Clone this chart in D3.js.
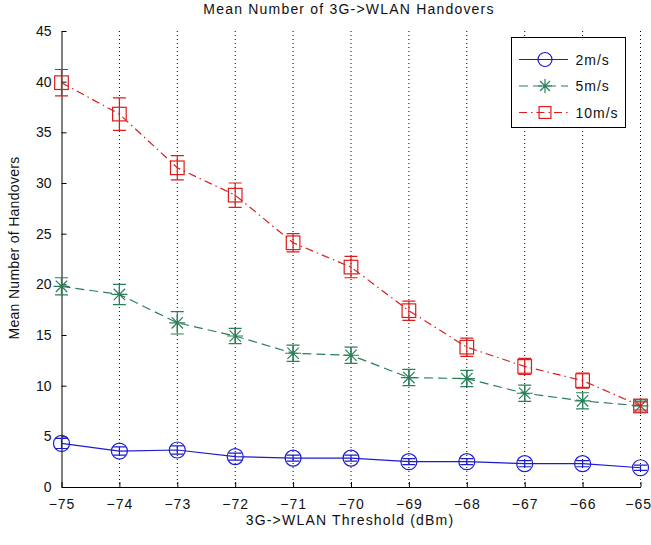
<!DOCTYPE html>
<html lang="en">
<head>
    <meta charset="utf-8">
    <title>Mean Number of 3G->WLAN Handovers</title>
    <style>
        body { margin: 0; background: #fff; }
        text { font-family: "Liberation Sans", Arial, sans-serif; fill: #111; }
    </style>
</head>
<body>
    <div id="chart"></div>
    <script src="https://d3js.org/d3.v7.min.js"></script>
    <script>
        // thresholds (dBm)
        const thresholds = [-75, -74, -73, -72, -71, -70, -69, -68, -67, -66, -65]

        // mean values + half error per speed
        const mean2 = [4.3, 3.55, 3.65, 3.0, 2.85, 2.85, 2.5, 2.5, 2.3, 2.3, 1.9]
        const err2 = [0.5, 0.4, 0.4, 0.35, 0.3, 0.3, 0.3, 0.3, 0.3, 0.3, 0.25]
        const mean5 = [19.8, 19.0, 16.2, 14.9, 13.2, 13.0, 10.8, 10.7, 9.25, 8.5, 8.0]
        const err5 = [0.85, 1.0, 1.1, 0.75, 0.8, 0.8, 0.8, 0.8, 0.8, 0.8, 0.6]
        const mean10 = [39.9, 36.8, 31.5, 28.8, 24.1, 21.7, 17.4, 13.8, 11.9, 10.5, 8.0]
        const err10 = [1.3, 1.6, 1.2, 1.2, 0.9, 1.05, 0.95, 0.9, 0.8, 0.75, 0.4]

        const yTicks = [0, 5, 10, 15, 20, 25, 30, 35, 40, 45]

        const W = 651, H = 545
        const margin = { left: 61.5, right: 10.5, top: 31, bottom: 58 }

        const svg = d3.select('#chart').append('svg')
            .attr('width', W).attr('height', H)

        const x = d3.scaleLinear().domain([-75, -65]).range([margin.left, W - margin.right])
        const y = d3.scaleLinear().domain([0, 45]).range([H - margin.bottom, margin.top])

        const series = [
            { name: '2m/s', mean: mean2, err: err2, color: '#1c1ccc', dash: null, marker: 'circle' },
            { name: '5m/s', mean: mean5, err: err5, color: '#2a7f58', dash: '9,5', marker: 'star' },
            { name: '10m/s', mean: mean10, err: err10, color: '#dc1c1c', dash: '8,4,1.5,4', marker: 'square' }
        ]

        // dotted vertical grid
        svg.append('g')
            .selectAll('line')
            .data(thresholds.slice(1))
            .join('line')
            .attr('x1', d => x(d)).attr('x2', d => x(d))
            .attr('y1', y(45)).attr('y2', y(0))
            .attr('stroke', '#000')
            .attr('stroke-width', 1)
            .attr('stroke-dasharray', '1,3')

        // axes (ticks inward, like matlab)
        const xAxis = svg.append('g')
            .attr('transform', `translate(0,${y(0)})`)
            .call(d3.axisBottom(x).tickValues(thresholds).tickSize(-5).tickPadding(12).tickSizeOuter(0))
        const yAxis = svg.append('g')
            .attr('transform', `translate(${x(-75)},0)`)
            .call(d3.axisLeft(y).tickValues(yTicks).tickSize(-5).tickPadding(10).tickSizeOuter(0))

        ;[xAxis, yAxis].forEach(g => {
            g.selectAll('text').style('font-size', '14px').style('font-family', '"Liberation Sans", Arial, sans-serif')
            g.select('.domain').attr('stroke', '#000')
        })
        xAxis.selectAll('text').style('letter-spacing', '1px')
        // keep the last label inside the page
        xAxis.selectAll('text').filter(d => d === -65).attr('text-anchor', 'end').attr('x', 11)

        function drawMarker(g, type, cx, cy, color, r) {
            if (type === 'circle') {
                g.append('circle').attr('cx', cx).attr('cy', cy).attr('r', r)
                    .attr('fill', 'none').attr('stroke', color).attr('stroke-width', 1.2)
            } else if (type === 'square') {
                const h = r * 0.85
                g.append('rect').attr('x', cx - h).attr('y', cy - h).attr('width', 2 * h).attr('height', 2 * h)
                    .attr('fill', 'none').attr('stroke', color).attr('stroke-width', 1.2)
            } else {
                const d = r * 0.71
                g.append('path')
                    .attr('d', `M${cx - r},${cy}H${cx + r}M${cx},${cy - r}V${cy + r}` +
                        `M${cx - d},${cy - d}L${cx + d},${cy + d}M${cx - d},${cy + d}L${cx + d},${cy - d}`)
                    .attr('stroke', color).attr('stroke-width', 1.2).attr('fill', 'none')
            }
        }

        const line = d3.line().x(d => x(d[0])).y(d => y(d[1]))

        series.forEach(s => {
            const pts = thresholds.map((t, i) => [t, s.mean[i], s.err[i]])
            const g = svg.append('g')
            g.append('path')
                .attr('d', line(pts))
                .attr('fill', 'none')
                .attr('stroke', s.color)
                .attr('stroke-width', 1.2)
                .attr('stroke-dasharray', s.dash)
            // error bars
            pts.forEach(p => {
                const cx = x(p[0]), top = y(p[1] + p[2]), bot = y(p[1] - p[2])
                g.append('path')
                    .attr('d', `M${cx},${top}V${bot}M${cx - 6.5},${top}H${cx + 6.5}M${cx - 6.5},${bot}H${cx + 6.5}`)
                    .attr('stroke', s.color).attr('stroke-width', 1.2).attr('fill', 'none')
                drawMarker(g, s.marker, cx, y(p[1]), s.color, 8)
            })
        })

        // legend
        const lg = svg.append('g').attr('transform', 'translate(511.5,37.5)')
        lg.append('rect').attr('width', 114).attr('height', 90)
            .attr('fill', '#fff').attr('stroke', '#000')
        series.forEach((s, i) => {
            const ly = 22 + i * 26.5
            lg.append('line').attr('x1', 7.5).attr('x2', 56.5).attr('y1', ly).attr('y2', ly)
                .attr('stroke', s.color).attr('stroke-width', 1.2).attr('stroke-dasharray', s.dash)
            drawMarker(lg, s.marker, 33.5, ly, s.color, 7)
            lg.append('text').attr('x', 64).attr('y', ly + 5)
                .style('font-size', '14px').style('letter-spacing', '1px').text(s.name)
        })

        // title and axis labels
        svg.append('text').attr('x', (x(-75) + x(-65)) / 2 - 2).attr('y', 14)
            .attr('text-anchor', 'middle').style('font-size', '14px').style('letter-spacing', '1.2px')
            .text('Mean Number of 3G->WLAN Handovers')
        svg.append('text').attr('x', (x(-75) + x(-65)) / 2 - 1).attr('y', 524.5)
            .attr('text-anchor', 'middle').style('font-size', '14px').style('letter-spacing', '1.2px')
            .text('3G->WLAN Threshold (dBm)')
        svg.append('text')
            .attr('transform', `translate(19,${(y(0) + y(45)) / 2 - 11}) rotate(-90)`)
            .attr('text-anchor', 'middle').style('font-size', '14px').style('letter-spacing', '0.3px')
            .text('Mean Number of Handovers')
    </script>
</body>
</html>
